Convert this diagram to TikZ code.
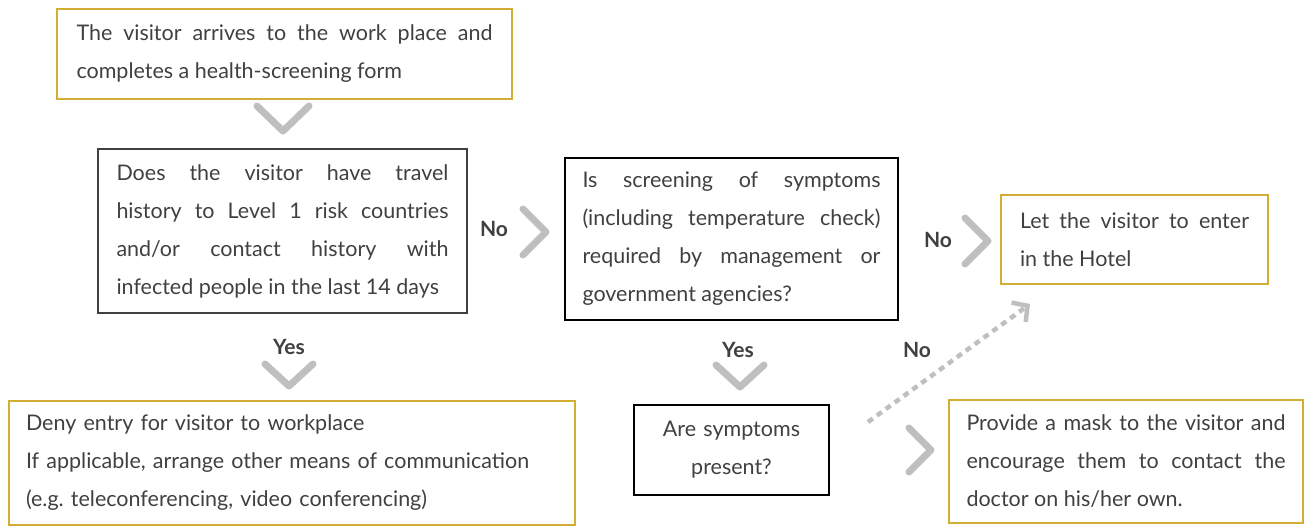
\documentclass[tikz,border=0pt]{standalone}
\usepackage{fontspec}
\setmainfont{Lato}
\usetikzlibrary{arrows.meta}
\definecolor{gold}{HTML}{D2AE32}
\definecolor{txt}{HTML}{404040}
\definecolor{chev}{HTML}{BFBFBF}
\definecolor{dgray}{HTML}{404040}
\frenchspacing
\tikzset{
  box/.style={draw, line width=2pt, anchor=north west, inner sep=0pt, text=txt,
    font=\fontsize{21.5}{38}\selectfont, align=justify},
  lab/.style={text=txt, font=\bfseries\fontsize{21}{24}\selectfont, inner sep=0pt},
  chevron/.style={draw=chev, line width=7pt, line cap=round, line join=round},
  dasharrow/.style={draw=chev, line width=4.5pt, dash pattern=on 6pt off 5pt,
    -{Straight Barb[length=11pt,width=24pt,line width=4.5pt]}},
}
\begin{document}
\begin{tikzpicture}[x=1pt,y=-1pt]
\useasboundingbox (0,0) rectangle (1306,525);
\node[box, draw=gold, minimum width=455, minimum height=90, text width=416] (b1) at (56,8)
  {The visitor arrives to the work place and\linebreak completes a health-screening form};
\node[box, draw=dgray, minimum width=369, minimum height=164, text width=332] (b2) at (97,148)
  {Does the visitor have travel\linebreak history to Level 1 risk countries\linebreak and/or contact history with\linebreak infected people in the last 14 days};
\node[box, draw=black, minimum width=333, minimum height=162, text width=298] (b3) at (564,157)
  {Is screening of symptoms\linebreak (including temperature check)\linebreak required by management or\linebreak government agencies?};
\node[box, draw=gold, minimum width=267, minimum height=89, text width=229] (b4) at (1000,194)
  {Let the visitor to enter\linebreak in the Hotel};
\node[box, draw=gold, minimum width=566, minimum height=124, text width=532, align=left] (b5) at (8,400)
  {Deny entry for visitor to workplace\\If applicable, arrange other means of communication\\(e.g. teleconferencing, video conferencing)};
\node[box, draw=black, minimum width=195, minimum height=90, text width=170, align=center] (b6) at (633,404)
  {Are symptoms\\present?};
\node[box, draw=gold, minimum width=354, minimum height=123, text width=319] (b7) at (948,399)
  {Provide a mask to the visitor and\linebreak encourage them to contact the\linebreak doctor on his/her own.};

\node[lab] (no1) at (494,229) {No};
\node[lab] (no2) at (938,240) {No};
\node[lab] (yes1) at (289,347) {Yes};
\node[lab] (yes2) at (738,350) {Yes};
\node[lab] (no3) at (917,350) {No};

% chevrons
\coordinate (c1) at (283,131);
\coordinate (c2) at (546,232);
\coordinate (c3) at (988,241);
\coordinate (c4) at (289,386);
\coordinate (c5) at (740,387);
\coordinate (c6) at (931,450);
\draw[chevron] ([shift={(-26,-25)}]c1) -- (c1) -- ([shift={(26,-25)}]c1);
\draw[chevron] ([shift={(-23,-23)}]c2) -- (c2) -- ([shift={(-23,23)}]c2);
\draw[chevron] ([shift={(-23,-23)}]c3) -- (c3) -- ([shift={(-23,23)}]c3);
\draw[chevron] ([shift={(-24,-22)}]c4) -- (c4) -- ([shift={(24,-22)}]c4);
\draw[chevron] ([shift={(-24,-22)}]c5) -- (c5) -- ([shift={(24,-22)}]c5);
\draw[chevron] ([shift={(-22,-22)}]c6) -- (c6) -- ([shift={(-22,22)}]c6);

% dashed arrow
\coordinate (ds) at (868,422);
\draw[dasharrow] (ds) -- ([shift={(30,19)}]b4.south west);
\end{tikzpicture}
\end{document}
